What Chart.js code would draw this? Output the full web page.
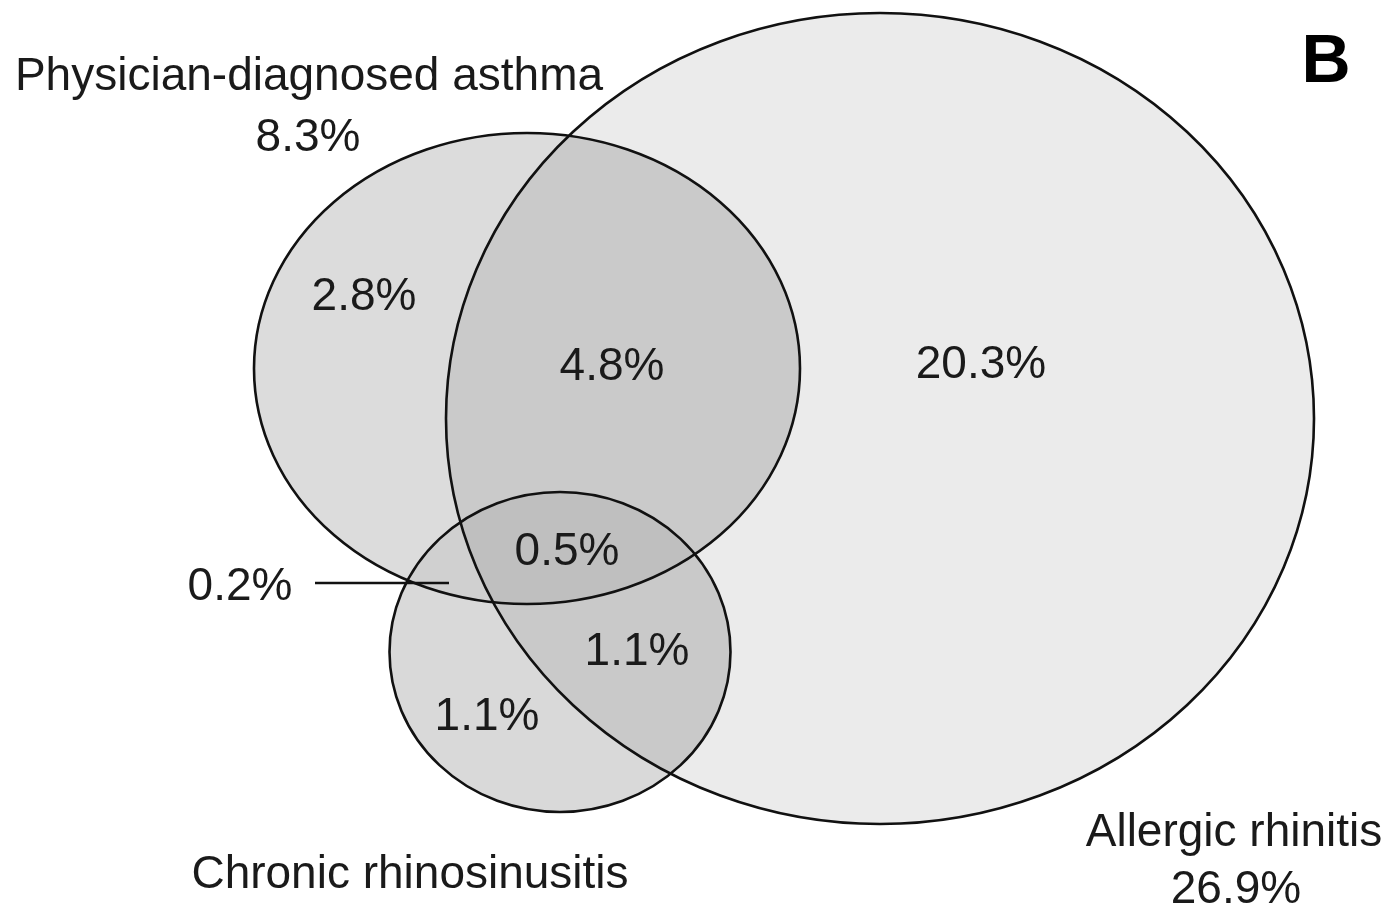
<!DOCTYPE html>
<html>
<head>
<meta charset="utf-8">
<script src="https://cdn.jsdelivr.net/npm/chart.js@4.4.1/dist/chart.umd.min.js"></script>
<style>
  html, body { margin: 0; padding: 0; background: #ffffff; }
  #wrap { width: 1389px; height: 903px; position: relative; }
</style>
</head>
<body>
<div id="wrap"><canvas id="venn"></canvas></div>
<script>
// Sets of the Venn diagram and their overall prevalence
const setNames = ['Physician-diagnosed asthma', 'Allergic rhinitis', 'Chronic rhinosinusitis'];
const setTotals = [8.3, 26.9, null];

// Prevalence of each region (%)
const regionNames = ['Asthma only', 'Asthma + AR', 'AR only', 'All three', 'Asthma + CRS', 'CRS + AR', 'CRS only'];
const regionValues = [2.8, 4.8, 20.3, 0.5, 0.2, 1.1, 1.1];

// Panel letter
const panelLabel = 'B';

// Ellipse geometry of each set in chart units: centre and radii
const ellipseCx = [527, 880, 560];
const ellipseCy = [368.5, 418.5, 652];
const ellipseRx = [273, 434, 170.5];
const ellipseRy = [235.5, 405.5, 160];

// Where each region label sits (chart units, centre / baseline)
const regionLabelX = [364, 612, 981, 567, 240, 637, 487];
const regionLabelY = [310, 380, 378, 565, 600, 665, 730];

const FONT = '"Liberation Sans", Arial, Helvetica, sans-serif';
const fillBase = ['#dcdcdc', '#ebebeb', '#d9d9d9'];
const fillPair = { '0-1': '#cacaca', '1-2': '#c9c9c9', '0-2': '#d0d0d0' };
const fillTriple = '#bfbfbf';

const vennPlugin = {
  id: 'vennDrawer',
  beforeDatasetsDraw(chart) {
    const { ctx, scales: { x, y } } = chart;
    const shapes = chart.data.datasets.map((ds, i) => {
      const p = ds.data[0];
      const cx = x.getPixelForValue(p.x);
      const cy = y.getPixelForValue(p.y);
      const rx = Math.abs(x.getPixelForValue(p.x + ds.radiusX) - cx);
      const ry = Math.abs(y.getPixelForValue(p.y + ds.radiusY) - cy);
      return { cx, cy, rx, ry };
    });
    const path = (s) => {
      ctx.beginPath();
      ctx.ellipse(s.cx, s.cy, s.rx, s.ry, 0, 0, Math.PI * 2);
    };
    ctx.save();
    // single-set fills, largest first
    [1, 0, 2].forEach(i => { path(shapes[i]); ctx.fillStyle = fillBase[i]; ctx.fill(); });
    // pairwise overlaps
    [[0, 1], [1, 2], [0, 2]].forEach(([a, b]) => {
      ctx.save();
      path(shapes[a]); ctx.clip();
      path(shapes[b]); ctx.fillStyle = fillPair[a + '-' + b]; ctx.fill();
      ctx.restore();
    });
    // triple overlap
    ctx.save();
    path(shapes[0]); ctx.clip();
    path(shapes[1]); ctx.clip();
    path(shapes[2]); ctx.fillStyle = fillTriple; ctx.fill();
    ctx.restore();
    // outlines
    ctx.lineWidth = 2.6;
    ctx.strokeStyle = '#111111';
    shapes.forEach(s => { path(s); ctx.stroke(); });

    // leader line for the asthma + CRS region
    ctx.beginPath();
    ctx.moveTo(x.getPixelForValue(315), y.getPixelForValue(583));
    ctx.lineTo(x.getPixelForValue(449), y.getPixelForValue(583));
    ctx.stroke();

    // text
    ctx.fillStyle = '#1a1a1a';
    ctx.textAlign = 'center';
    ctx.textBaseline = 'alphabetic';
    ctx.font = '46px ' + FONT;
    const txt = (s, px, py) => ctx.fillText(s, x.getPixelForValue(px), y.getPixelForValue(py));
    regionValues.forEach((v, i) => txt(v.toFixed(1) + '%', regionLabelX[i], regionLabelY[i]));

    txt(setNames[0], 309, 90);
    txt(setTotals[0].toFixed(1) + '%', 308, 151);
    txt(setNames[1], 1234, 846);
    txt(setTotals[1].toFixed(1) + '%', 1236, 903);
    txt(setNames[2], 410, 888);

    ctx.fillStyle = '#000000';
    ctx.font = 'bold 68px ' + FONT;
    txt(panelLabel, 1326, 82);
    ctx.restore();
  }
};

new Chart(document.getElementById('venn'), {
  type: 'scatter',
  data: {
    datasets: setNames.map((name, i) => ({
      label: name,
      data: [{ x: ellipseCx[i], y: ellipseCy[i] }],
      radiusX: ellipseRx[i],
      radiusY: ellipseRy[i],
      pointRadius: 0,
      pointHoverRadius: 0
    }))
  },
  options: {
    responsive: true,
    maintainAspectRatio: false,
    animation: false,
    layout: { padding: 0 },
    plugins: { legend: { display: false }, tooltip: { enabled: false } },
    events: [],
    scales: {
      x: { type: 'linear', min: 0, max: 1389, display: false },
      y: { type: 'linear', min: 0, max: 903, reverse: true, display: false }
    }
  },
  plugins: [vennPlugin]
});
</script>
</body>
</html>
